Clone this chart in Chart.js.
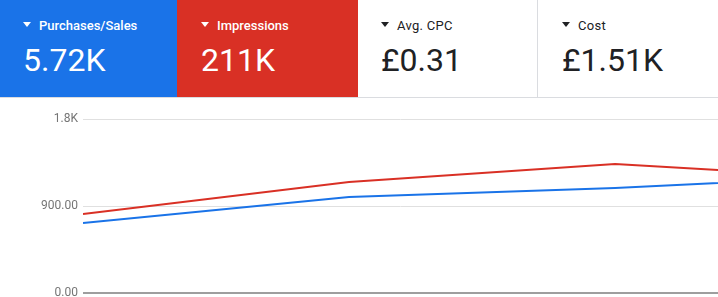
<!DOCTYPE html>
<html lang="en">
<head>
  <meta charset="UTF-8">
  <title>Performance overview</title>
  <style>
    body {
      margin: 0;
      width: 718px;
      height: 297px;
      overflow: hidden;
      background: #fff;
      font-family: Roboto, 'Noto Sans', sans-serif;
    }

    /* metric cards */
    .cards {
      display: flex;
      height: 97px;
      border-bottom: 1px solid #dadce0;
    }
    .card {
      box-sizing: border-box;
      height: 97px;
      padding: 17px 0 0 23px;
      color: #202124;
    }
    .card.blue { background: #1a73e8; color: #fff; width: 177px; }
    .card.red { background: #d93025; color: #fff; width: 181px; padding-left: 24px; }
    .card.white1 { width: 180px; border-right: 1px solid #dadce0; }
    .card.white2 { width: 180px; padding-left: 24px; }

    .card .title {
      font-size: 13px;
      font-weight: 500;
      height: 18px;
      line-height: 18px;
      white-space: nowrap;
    }
    .card.white1 .title, .card.white2 .title {
      font-weight: 400;
      letter-spacing: 0.3px;
    }
    .card .arrow {
      display: inline-block;
      width: 0;
      height: 0;
      border-left: 4px solid transparent;
      border-right: 4px solid transparent;
      border-top: 5px solid currentColor;
      margin-right: 8px;
      vertical-align: 3px;
    }
    .card .value {
      font-size: 32px;
      font-weight: 400;
      margin-top: 7px;
      line-height: 36px;
      white-space: nowrap;
    }

    .chart-box {
      height: 199px;
      overflow: hidden;
    }
  </style>
  <script src="https://cdn.jsdelivr.net/npm/chart.js"></script>
</head>
<body>

  <div class="cards">
    <div class="card blue"><div class="title"><span class="arrow"></span>Purchases/Sales</div><div class="value">5.72K</div></div>
    <div class="card red"><div class="title"><span class="arrow"></span>Impressions</div><div class="value">211K</div></div>
    <div class="card white1"><div class="title"><span class="arrow"></span>Avg. CPC</div><div class="value">£0.31</div></div>
    <div class="card white2"><div class="title"><span class="arrow"></span>Cost</div><div class="value">£1.51K</div></div>
  </div>

  <div class="chart-box">
    <canvas id="myChart" width="718" height="225"></canvas>
  </div>

  <script>
    // x positions (periods), last one runs off the right edge
    const periods = [0, 1, 2, 3];
    const impressions = [817, 1148, 1334, 1174];
    const purchases = [724, 993, 1086, 1220];
    const yTicks = [0, 900, 1800];
    const yTickLabels = ['0.00', '900.00', '1.8K'];

    function toPoints(vals) {
      return periods.map((p, i) => ({ x: p, y: vals[i] }));
    }

    const ctx = document.getElementById('myChart').getContext('2d');

    new Chart(ctx, {
      type: 'line',
      data: {
        datasets: [
          {
            label: 'Impressions',
            data: toPoints(impressions),
            borderColor: '#d93025',
            borderWidth: 2,
            pointRadius: 0,
            tension: 0
          },
          {
            label: 'Purchases/Sales',
            data: toPoints(purchases),
            borderColor: '#1a73e8',
            borderWidth: 2,
            pointRadius: 0,
            tension: 0
          }
        ]
      },
      options: {
        responsive: false,
        animation: false,
        devicePixelRatio: 1,
        layout: { padding: { top: 21, bottom: 30, left: 0, right: 0 } },
        plugins: {
          legend: { display: false },
          tooltip: { enabled: false }
        },
        scales: {
          x: {
            type: 'linear',
            display: false,
            min: 0,
            max: 2.387
          },
          y: {
            min: 0,
            max: 1800,
            afterBuildTicks: scale => {
              scale.ticks = yTicks.map(v => ({ value: v }));
            },
            afterFit: scale => {
              scale.width = 83;
            },
            border: { display: false },
            grid: {
              drawTicks: false,
              color: c => c.tick && c.tick.value === 0 ? '#9e9e9e' : '#e0e0e0',
              lineWidth: c => c.tick && c.tick.value === 0 ? 2 : 1
            },
            ticks: {
              padding: 5,
              color: '#757575',
              font: { family: 'Roboto', size: 12 },
              callback: (v) => yTickLabels[yTicks.indexOf(v)]
            }
          }
        }
      }
    });
  </script>

</body>
</html>
